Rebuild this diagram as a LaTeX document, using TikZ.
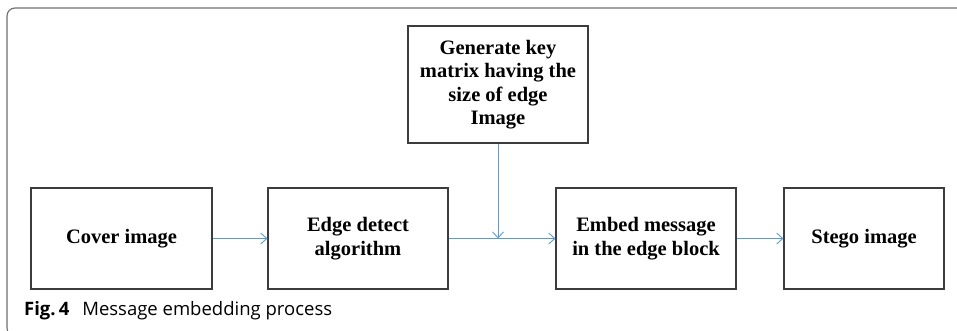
\documentclass[tikz,border=0pt]{standalone}
\usepackage{fontspec}
\setmainfont{Liberation Serif}
\newfontfamily\capfont{Open Sans}
\usetikzlibrary{arrows.meta}
\definecolor{arrowblue}{RGB}{91,155,213}
\definecolor{boxgray}{RGB}{60,60,60}
\definecolor{framegray}{RGB}{110,110,110}
\begin{document}
\begin{tikzpicture}[x=1pt,y=-1pt,
  box/.style={draw=boxgray,line width=1.2pt,rectangle,align=center,inner sep=0pt,
    font=\fontsize{20.5}{23.5}\selectfont\bfseries,minimum height=101pt},
  flow/.style={draw=arrowblue,line width=0.9pt,-{Straight Barb[length=6pt,width=11pt]}}]
\useasboundingbox (0,0) rectangle (957,330);
\begin{scope}
\clip (0,0) rectangle (957,330);
\draw[framegray,line width=1.1pt,rounded corners=8pt] (960,8) -- (7,8) -- (7,336) -- (30,336);
\end{scope}
\node[box,minimum width=181pt] (cover) at (121.5,238.5) {Cover image};
\node[box,minimum width=180pt] (edge) at (358,238.5) {Edge detect\\algorithm};
\node[box,minimum width=180pt,minimum height=117pt] (gen) at (498,84.5) {Generate key\\matrix having the\\size of edge\\Image};
\node[box,minimum width=180pt] (embed) at (646,238.5) {Embed message\\in the edge block};
\node[box,minimum width=160pt] (stego) at (864,238.5) {Stego image};
\coordinate (j) at (gen.south |- edge.east);
\draw[flow] (cover.east) -- (edge.west);
\draw[flow] (edge.east) -- (embed.west);
\draw[flow] (gen.south) -- (j);
\draw[flow] (embed.east) -- (stego.west);
\node[anchor=base west,inner sep=0pt,font=\capfont\fontsize{18.5}{21}\selectfont] (cap) at (24,315) {\textbf{Fig.\,4}\hspace{0.7em}Message embedding process};
\end{tikzpicture}
\end{document}
